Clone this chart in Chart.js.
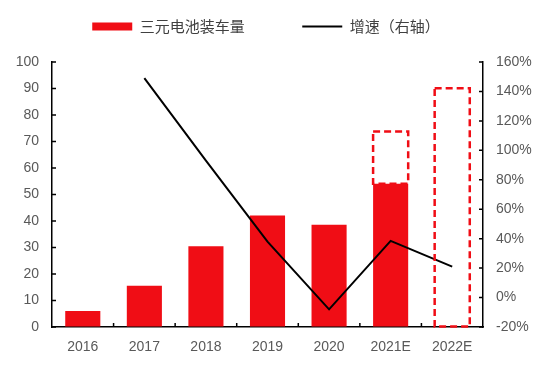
<!DOCTYPE html>
<html>
<head>
<meta charset="utf-8">
<script src="https://cdn.jsdelivr.net/npm/chart.js@4"></script>
<style>
  html, body { margin: 0; padding: 0; background: #fff; }
  #wrap { width: 550px; height: 369px; }
</style>
</head>
<body>
<div id="wrap"><canvas id="grafik"></canvas></div>
<script>
// data
const tahun = ["2016", "2017", "2018", "2019", "2020", "2021E", "2022E"];
const volume = [6.0, 15.6, 30.5, 42.1, 38.6, 54.1, null];     // 三元电池装车量 (solid bars)
const estimasi = [null, null, null, null, null, [54.1, 73.8], [0, 90.1]]; // dashed boxes
const growth = [null, 149, 93, 38, -8, 38.5, 21];              // 增速 (%), right axis
const kiriTicks = { min: 0, max: 100, step: 10 };
const kananTicks = { min: -20, max: 160, step: 20 };

const merah = "#f00d15";
const fontCJK = "'Noto Sans CJK SC', 'Liberation Sans', sans-serif";
const fontAngka = "'Liberation Sans', 'DejaVu Sans', sans-serif";

// dashed outline for the estimate boxes
const kotakPutus = {
  id: "kotakPutus",
  afterDatasetsDraw(chart) {
    const meta = chart.getDatasetMeta(1);
    const ctx = chart.ctx;
    ctx.save();
    ctx.strokeStyle = merah;
    ctx.lineWidth = 2.5;
    ctx.setLineDash([7, 4]);
    meta.data.forEach((bar, i) => {
      if (estimasi[i] == null) return;
      const p = bar.getProps(["x", "y", "base", "width"], true);
      ctx.strokeRect(p.x - p.width / 2, p.y, p.width, p.base - p.y);
    });
    ctx.restore();
  }
};

// short tick marks pointing into the plot
const tickDalam = {
  id: "tickDalam",
  afterDraw(chart) {
    const ctx = chart.ctx, a = chart.chartArea;
    const sx = chart.scales.x, sy = chart.scales.y, sy1 = chart.scales.y1;
    ctx.save();
    ctx.strokeStyle = "#000";
    ctx.lineWidth = 1.5;
    ctx.beginPath();
    sy.ticks.forEach((t, i) => {
      const y = sy.getPixelForTick(i);
      ctx.moveTo(a.left, y); ctx.lineTo(a.left + 4, y);
    });
    sy1.ticks.forEach((t, i) => {
      const y = sy1.getPixelForTick(i);
      ctx.moveTo(a.right - 4, y); ctx.lineTo(a.right, y);
    });
    for (let i = 1; i < tahun.length; i++) {
      const x = (sx.getPixelForTick(i - 1) + sx.getPixelForTick(i)) / 2;
      ctx.moveTo(x, a.bottom); ctx.lineTo(x, a.bottom - 4);
    }
    ctx.stroke();
    ctx.restore();
  }
};

// give the legend a bit more room underneath
const legendRuang = {
  id: "legendRuang",
  afterInit(chart) {
    const lg = chart.legend;
    if (!lg) return;
    const fitAsli = lg.fit;
    lg.fit = function () {
      fitAsli.call(this);
      this.height += 18;
    };
  }
};

new Chart(document.getElementById("grafik").getContext("2d"), {
  type: "bar",
  data: {
    labels: tahun,
    datasets: [
      { type: "bar", label: "三元电池装车量", data: volume, backgroundColor: merah, grouped: false,
        categoryPercentage: 0.57, barPercentage: 1, yAxisID: "y", order: 2 },
      { type: "bar", label: "estimasi", data: estimasi, backgroundColor: "rgba(0,0,0,0)", grouped: false,
        categoryPercentage: 0.57, barPercentage: 1, yAxisID: "y", order: 3 },
      { type: "line", label: "增速（右轴）", data: growth, borderColor: "#000", borderWidth: 2,
        pointRadius: 0, tension: 0, fill: false, yAxisID: "y1", order: 1 }
    ]
  },
  options: {
    responsive: true, maintainAspectRatio: false, animation: false,
    layout: { padding: { top: 14, left: 0, right: 18, bottom: 0 } },
    plugins: {
      tooltip: { enabled: false },
      legend: {
        position: "top", align: "center",
        labels: {
          usePointStyle: true, pointStyleWidth: 40, boxHeight: 8, padding: 5,
          color: "#404040", font: { family: fontCJK, size: 15 },
          generateLabels() {
            return [
              { text: "三元电池装车量", pointStyle: "rect", fillStyle: merah, strokeStyle: merah, lineWidth: 0, fontColor: "#404040" },
              { text: "", pointStyle: "line", fillStyle: "rgba(0,0,0,0)", strokeStyle: "rgba(0,0,0,0)", lineWidth: 0 },
              { text: "增速（右轴）", pointStyle: "line", fillStyle: "#000", strokeStyle: "#000", lineWidth: 2, fontColor: "#404040" }
            ];
          }
        }
      }
    },
    scales: {
      x: {
        grid: { display: true, drawOnChartArea: false, drawTicks: false },
        border: { display: true, color: "#000", width: 1.5 },
        ticks: { color: "#595959", padding: 12, font: { family: fontAngka, size: 14 }, maxRotation: 0 },
        afterFit(s) { s.height = 42; }
      },
      y: {
        position: "left", min: kiriTicks.min, max: kiriTicks.max,
        grid: { display: true, drawOnChartArea: false, drawTicks: false },
        border: { display: true, color: "#000", width: 1.5 },
        ticks: { stepSize: kiriTicks.step, color: "#595959", padding: 13, font: { family: fontAngka, size: 14 } },
        afterFit(s) { s.width = 52; }
      },
      y1: {
        position: "right", min: kananTicks.min, max: kananTicks.max,
        grid: { display: true, drawOnChartArea: false, drawTicks: false },
        border: { display: true, color: "#000", width: 1.5 },
        ticks: { stepSize: kananTicks.step, color: "#595959", padding: 13, font: { family: fontAngka, size: 14 },
          callback: v => v + "%" },
        afterFit(s) { s.width = 49; }
      }
    }
  },
  plugins: [kotakPutus, tickDalam, legendRuang]
});
</script>
</body>
</html>
